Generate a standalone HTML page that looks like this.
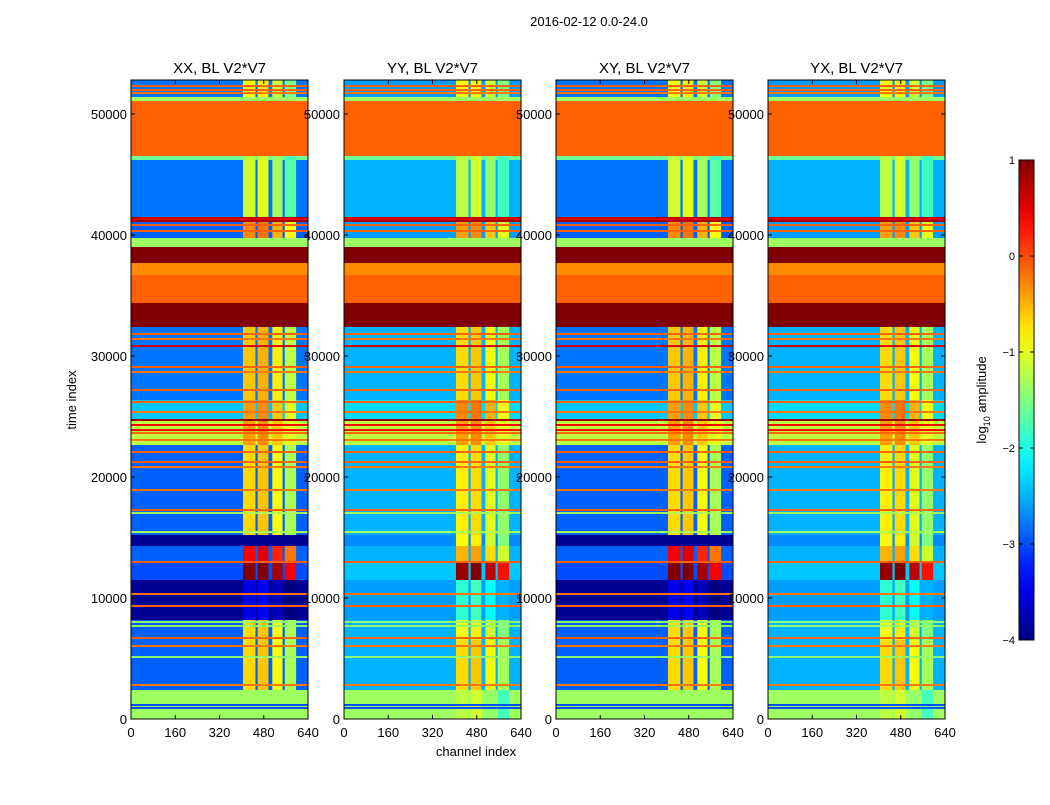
<!DOCTYPE html>
<html><head><meta charset="utf-8"><style>
html,body{margin:0;padding:0;background:#fff;}
body{width:1050px;height:800px;overflow:hidden;font-family:"Liberation Sans",sans-serif;}
svg text{font-family:"Liberation Sans","DejaVu Sans",sans-serif;}
</style></head><body>
<svg id="chart" width="1050" height="800" xmlns="http://www.w3.org/2000/svg">
<text x="589" y="26" font-size="13" text-anchor="middle">2016-02-12 0.0-24.0</text>
<text x="476" y="756" font-size="13" text-anchor="middle">channel index</text>
<text transform="translate(76,400) rotate(-90)" font-size="13" text-anchor="middle">time index</text>
<g id="panels"></g>
<g id="cbar"></g>
</svg>
<script>
// ---- data ----
const panelTitles = ["XX, BL V2*V7", "YY, BL V2*V7", "XY, BL V2*V7", "YX, BL V2*V7"];
const panelPol = [0, 1, 0, 1];
const xTicks = [0, 160, 320, 480, 640];
const yTicks = [0, 10000, 20000, 30000, 40000, 50000];
const cbarTicks = [1, 0, -1, -2, -3, -4];
const cbarLabels = ["1", "0", "\u22121", "\u22122", "\u22123", "\u22124"];
// bands: [tStart, tEnd, bgXX, blockXX, bgYY, blockYY] (log10 amplitude)
const bands = [
 [51400, 52810, -2.8, -1.0, -2.6, -1.0],
 [51070, 51400, -1.35, -1.35, -1.35, -1.35],
 [46530, 51070, -0.1, -0.1, -0.1, -0.1],
 [46200, 46530, -1.6, -1.3, -1.6, -1.3],
 [41490, 46200, -2.8, -1.2, -2.5, -1.3],
 [41070, 41490, 0.8, 0.8, 0.8, 0.8],
 [39750, 41070, -2.9, -0.4, -2.6, -0.5],
 [39010, 39750, -1.35, -1.35, -1.35, -1.35],
 [37680, 39010, 1.0, 1.0, 1.0, 1.0],
 [36690, 37680, -0.3, -0.3, -0.3, -0.3],
 [34380, 36690, -0.1, -0.1, -0.1, -0.1],
 [32400, 34380, 1.0, 1.0, 1.0, 1.0],
 [26360, 32400, -2.8, -0.7, -2.5, -0.8],
 [24710, 26360, -2.4, -0.5, -2.3, -0.4],
 [22640, 24710, -1.2, -0.5, -1.2, -0.5],
 [15210, 22640, -2.9, -0.8, -2.5, -0.9],
 [14300, 15210, -3.9, -3.9, -2.7, -1.0],
 [12890, 14300, -2.9, 0.3, -2.5, -0.6],
 [11490, 12890, -3.0, 0.9, -2.4, 0.8],
 [8180, 11490, -3.9, -3.6, -2.6, -2.0],
 [6530, 8180, -2.9, -0.8, -2.5, -1.0],
 [2400, 6530, -2.9, -0.8, -2.5, -0.8],
 [0, 2400, -1.35, -1.35, -1.35, -1.3]
];
const lineTimes = [52310, 51980, 51730, 41320, 40820, 40330, 31820, 31400, 30820, 29090, 28680, 27190, 26200, 25370, 24710, 24300, 23880, 23630, 23060, 22070, 21240, 20820, 18920, 17270, 17020, 15450, 12970, 10330, 9340, 8020, 7690, 6690, 6030, 5120, 2810, 1160, 910];
const lineValues = [-0.1, -0.1, -0.2, 0.5, -0.1, -0.1, -0.1, -0.2, 0.6, -0.1, -0.2, -0.1, -0.1, -0.2, 0.9, 0.4, 0.4, -0.1, -0.2, -0.1, -0.1, -0.2, -0.2, -0.1, -1.3, -1.3, -0.1, -0.2, -0.1, -1.4, -1.4, -0.1, -0.2, -1.4, -0.2, -3.0, -3.0];
const blockCols = [[405, 450, 0.1], [458, 497, 0.2], [511, 548, -0.1], [556, 597, -0.5]];

// ---- geometry ----
const panelX = [131, 344, 556, 768];
const pw = 177, plotTop = 80, plotBottom = 719;
const tMax = 52810, chMax = 640;
const ys = t => plotBottom - (t / tMax) * (plotBottom - plotTop);
const xs = (px, c) => px + (c / chMax) * pw;

function jet(v) {
  let f = Math.max(0, Math.min(1, (v + 4) / 5));
  const cl = x => Math.max(0, Math.min(1, x));
  const r = cl(1.5 - Math.abs(4 * f - 3)), g = cl(1.5 - Math.abs(4 * f - 2)), b = cl(1.5 - Math.abs(4 * f - 1));
  return `rgb(${Math.round(r * 255)},${Math.round(g * 255)},${Math.round(b * 255)})`;
}
const NS = "http://www.w3.org/2000/svg";
function mk(tag, attrs, parent) {
  const e = document.createElementNS(NS, tag);
  for (const k in attrs) e.setAttribute(k, attrs[k]);
  parent.appendChild(e);
  return e;
}
const panelsG = document.getElementById("panels");
panelX.forEach((px, pi) => {
  const g = mk("g", {}, panelsG);
  
  
  const pol = panelPol[pi];
  bands.forEach(b => {
    const y0 = ys(b[1]), y1 = ys(b[0]);
    const bg = b[2 + pol * 2], bl = b[3 + pol * 2];
    const r = mk("rect", {x: px, y: y0, width: pw, height: y1 - y0 + 0.3, fill: jet(bg)}, g);
    
    
    if (bl !== bg) {
      blockCols.forEach(c => {
        const x0 = xs(px, c[0]), x1 = xs(px, c[1]);
        const rc = mk("rect", {x: x0, y: y0, width: x1 - x0, height: y1 - y0 + 0.3, fill: jet(bl + c[2])}, g);
        
        
      });
    }
  });
  lineTimes.forEach((t, i) => {
    const l = mk("rect", {x: px, y: ys(t + 80), width: pw, height: ys(t - 80) - ys(t + 80), fill: jet(lineValues[i])}, g);
    
    
  });
  const fr = mk("rect", {x: px, y: plotTop, width: pw, height: plotBottom - plotTop, fill: "none", stroke: "#000", "stroke-width": 1}, g);
  
  
  const tt = mk("text", {x: px + pw / 2, y: 73, "font-size": 15, "text-anchor": "middle"}, g);
  tt.textContent = panelTitles[pi];
  
  
  xTicks.forEach(c => {
    const x = xs(px, c);
    mk("line", {x1: x, x2: x, y1: plotBottom, y2: plotBottom - 4, stroke: "#000"}, g);
    mk("line", {x1: x, x2: x, y1: plotTop, y2: plotTop + 4, stroke: "#000"}, g);
    const lt = mk("text", {x: x, y: plotBottom + 18, "font-size": 13, "text-anchor": "middle"}, g);
    lt.textContent = c;
    
    
  });
  yTicks.forEach(t => {
    const y = ys(t);
    mk("line", {x1: px, x2: px + 4, y1: y, y2: y, stroke: "#000"}, g);
    mk("line", {x1: px + pw, x2: px + pw - 4, y1: y, y2: y, stroke: "#000"}, g);
    const lt = mk("text", {x: px - 4, y: y + 5, "font-size": 13, "text-anchor": "end"}, g);
    lt.textContent = t;
    
    
  });
});
// colorbar
const cb = document.getElementById("cbar");
const cbX = 1019, cbW = 15, cbTop = 160, cbBot = 640;
const defs = mk("defs", {}, cb);
const grad = mk("linearGradient", {id: "jetg", x1: 0, y1: 1, x2: 0, y2: 0}, defs);
for (let i = 0; i <= 20; i++) mk("stop", {offset: i / 20, "stop-color": jet(-4 + 5 * i / 20)}, grad);
mk("rect", {x: cbX, y: cbTop, width: cbW, height: cbBot - cbTop, fill: "url(#jetg)", stroke: "#000"}, cb);
const cy = v => cbBot - (v + 4) / 5 * (cbBot - cbTop);
cbarTicks.forEach((v, i) => {
  const y = cy(v);
  mk("line", {x1: cbX, x2: cbX + 4, y1: y, y2: y, stroke: "#000"}, cb);
  mk("line", {x1: cbX + cbW, x2: cbX + cbW - 4, y1: y, y2: y, stroke: "#000"}, cb);
  const lt = mk("text", {x: cbX - 4, y: y + 4, "font-size": 11, "text-anchor": "end"}, cb);
  lt.textContent = cbarLabels[i];
  
  
});
const cl = mk("text", {transform: "translate(986,400) rotate(-90)", "font-size": 13, "text-anchor": "middle"}, cb);
cl.innerHTML = 'log<tspan font-size="9" dy="4">10</tspan><tspan dy="-4"> amplitude</tspan>';


</script>
</body></html>
